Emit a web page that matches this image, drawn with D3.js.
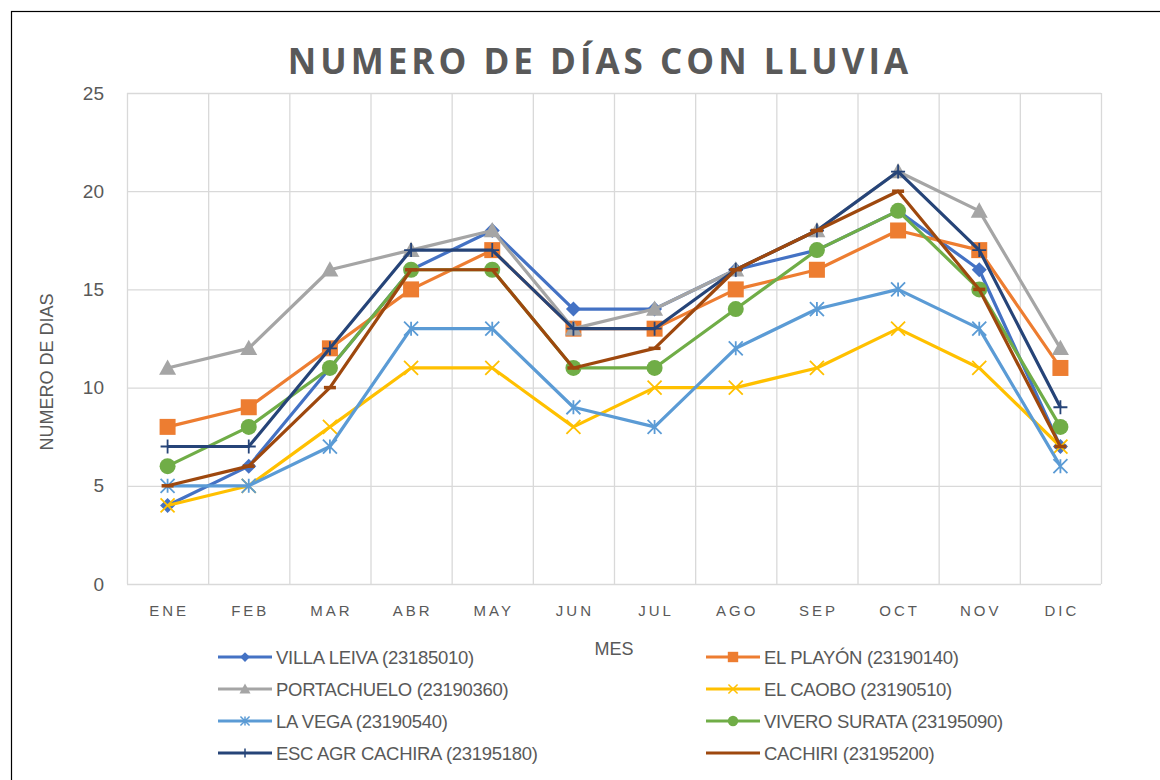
<!DOCTYPE html>
<head>
  <meta charset="utf-8">
  <style>
  body{ margin:0; background:#fff; }
  svg text{ fill:#595959; font-family:"Liberation Sans",sans-serif; }
  .title{ font-family:"Open Sans","Liberation Sans",sans-serif !important; font-weight:700; font-size:35px; letter-spacing:4px; }
  .tick text{ font-family:"Liberation Sans",sans-serif; font-size:19px; }
  .xt text{ letter-spacing:3px; font-size:15px; }
  .leg{ font-size:18.5px; letter-spacing:-0.3px; }
  </style>
</head>
<body>
  <svg width="1160" height="780"></svg>
  <script src="https://d3js.org/d3.v7.min.js"></script>
  <script>

  var months = ["ENE","FEB","MAR","ABR","MAY","JUN","JUL","AGO","SEP","OCT","NOV","DIC"];
  var yTicks = [0, 5, 10, 15, 20, 25];

  var villaLeiva   = [4, 6, 11, 16, 18, 14, 14, 16, 17, 19, 16, 7];
  var elPlayon     = [8, 9, 12, 15, 17, 13, 13, 15, 16, 18, 17, 11];
  var portachuelo  = [11, 12, 16, 17, 18, 13, 14, 16, 18, 21, 19, 12];
  var elCaobo      = [4, 5, 8, 11, 11, 8, 10, 10, 11, 13, 11, 7];
  var laVega       = [5, 5, 7, 13, 13, 9, 8, 12, 14, 15, 13, 6];
  var viveroSurata = [6, 8, 11, 16, 16, 11, 11, 14, 17, 19, 15, 8];
  var escAgr       = [7, 7, 12, 17, 17, 13, 13, 16, 18, 21, 17, 9];
  var cachiri      = [5, 6, 10, 16, 16, 11, 12, 16, 18, 20, 15, 7];

  var series = [
    {name:"VILLA LEIVA (23185010)", values:villaLeiva, color:"#4472C4", marker:"diamond"},
    {name:"EL PLAYÓN (23190140)", values:elPlayon, color:"#ED7D31", marker:"square"},
    {name:"PORTACHUELO (23190360)", values:portachuelo, color:"#A5A5A5", marker:"triangle"},
    {name:"EL CAOBO (23190510)", values:elCaobo, color:"#FFC000", marker:"x"},
    {name:"LA VEGA (23190540)", values:laVega, color:"#5B9BD5", marker:"star"},
    {name:"VIVERO SURATA (23195090)", values:viveroSurata, color:"#70AD47", marker:"circle"},
    {name:"ESC AGR CACHIRA (23195180)", values:escAgr, color:"#264478", marker:"plus"},
    {name:"CACHIRI (23195200)", values:cachiri, color:"#9E480E", marker:"dash"}
  ];

  var svg = d3.select("svg");

  // chart border
  svg.append("rect").attr("x", 11.5).attr("y", 11.5).attr("width", 1160).attr("height", 780)
      .attr("fill", "none").attr("stroke", "#000").attr("stroke-width", 1.2);

  var pLeft = 127, pRight = 1101, pTop = 93, pBottom = 584;

  var x = d3.scaleBand().domain(months).range([pLeft, pRight]);
  var y = d3.scaleLinear().domain([0, 25]).range([pBottom, pTop]);

  // grid
  svg.append("g").selectAll("line").data(yTicks).join("line")
      .attr("x1", pLeft).attr("x2", pRight)
      .attr("y1", function(d) { return y(d) + 0.5; }).attr("y2", function(d) { return y(d) + 0.5; })
      .attr("stroke", "#d9d9d9").attr("stroke-width", 1.3);
  svg.append("g").selectAll("line").data(months.concat(["end"])).join("line")
      .attr("x1", function(d, i) { return pLeft + i * x.bandwidth() + 0.5; })
      .attr("x2", function(d, i) { return pLeft + i * x.bandwidth() + 0.5; })
      .attr("y1", pTop).attr("y2", pBottom)
      .attr("stroke", "#d9d9d9").attr("stroke-width", 1.3);

  // axes (labels only)
  var ya = svg.append("g").attr("transform", "translate(" + (pLeft - 23) + ",0)")
      .call(d3.axisLeft(y).tickValues(yTicks).tickSize(0).tickPadding(0));
  ya.select(".domain").remove();

  var xa = svg.append("g").attr("class", "xt").attr("transform", "translate(0," + (pBottom + 21) + ")")
      .call(d3.axisBottom(x).tickSize(0).tickPadding(0));
  xa.select(".domain").remove();
  xa.selectAll("text").attr("dy", "0.71em").attr("dx", "1.5px");

  // titles
  svg.append("text").attr("class", "title").attr("x", 600).attr("y", 74)
      .attr("text-anchor", "middle").text("NUMERO DE DÍAS CON LLUVIA");
  svg.append("text").attr("transform", "translate(53," + 372 + ") rotate(-90)")
      .attr("text-anchor", "middle").style("font-size", "18px").text("NUMERO DE DIAS");
  svg.append("text").attr("x", 614).attr("y", 655)
      .attr("text-anchor", "middle").style("font-size", "18px").text("MES");

  function markerPath(type, s) {
    var h = s / 2;
    switch (type) {
      case "diamond": return "M0," + (-h) + "L" + h + ",0L0," + h + "L" + (-h) + ",0Z";
      case "square": return "M" + (-h) + "," + (-h) + "h" + s + "v" + s + "h" + (-s) + "Z";
      case "triangle": return "M0," + (-h) + "L" + h + "," + (h * 0.8) + "L" + (-h) + "," + (h * 0.8) + "Z";
      case "circle": return d3.symbol(d3.symbolCircle, Math.PI * h * h)();
      case "x": return "M" + (-h) + "," + (-h) + "L" + h + "," + h + "M" + h + "," + (-h) + "L" + (-h) + "," + h;
      case "star": return "M" + (-h) + "," + (-h) + "L" + h + "," + h + "M" + h + "," + (-h) + "L" + (-h) + "," + h + "M0," + (-h) + "L0," + h;
      case "plus": return "M" + (-h) + ",0L" + h + ",0M0," + (-h) + "L0," + h;
      case "dash": return "M" + (-h) + ",0L" + h + ",0";
    }
  }
  var filled = {diamond:true, square:true, triangle:true, circle:true};
  var msize = {diamond:15, square:16, triangle:17, circle:16, x:14, star:14, plus:14, dash:12};

  var line = d3.line()
      .x(function(d, i) { return x(months[i]) + x.bandwidth() / 2; })
      .y(function(d) { return y(d); });

  series.forEach(function(s) {
    var g = svg.append("g");
    g.append("path").datum(s.values).attr("d", line)
        .attr("fill", "none").attr("stroke", s.color).attr("stroke-width", 3.2)
        .attr("stroke-linejoin", "round");
    g.selectAll("path.m").data(s.values).join("path").attr("class", "m")
        .attr("transform", function(d, i) { return "translate(" + (x(months[i]) + x.bandwidth() / 2) + "," + y(d) + ")"; })
        .attr("d", markerPath(s.marker, msize[s.marker]))
        .attr("fill", filled[s.marker] ? s.color : "none")
        .attr("stroke", s.color)
        .attr("stroke-width", filled[s.marker] ? 0 : (s.marker == "dash" ? 3.5 : 1.8));
  });

  // legend
  var lg = svg.append("g").selectAll("g").data(series).join("g")
      .attr("transform", function(d, i) {
        return "translate(" + (i % 2 ? 706 : 218) + "," + (657 + Math.floor(i / 2) * 32) + ")";
      });
  lg.append("line").attr("x1", 0).attr("x2", 54).attr("stroke", function(d) { return d.color; })
      .attr("stroke-width", 3.2);
  lg.append("path").attr("transform", "translate(27,0)")
      .attr("d", function(d) { return markerPath(d.marker, msize[d.marker] * 0.65); })
      .attr("fill", function(d) { return filled[d.marker] ? d.color : "none"; })
      .attr("stroke", function(d) { return d.color; })
      .attr("stroke-width", function(d) { return filled[d.marker] ? 0 : 1.5; });
  lg.append("text").attr("class", "leg").attr("x", 58).attr("dy", "0.36em")
      .text(function(d) { return d.name; });

  </script>
</body>
